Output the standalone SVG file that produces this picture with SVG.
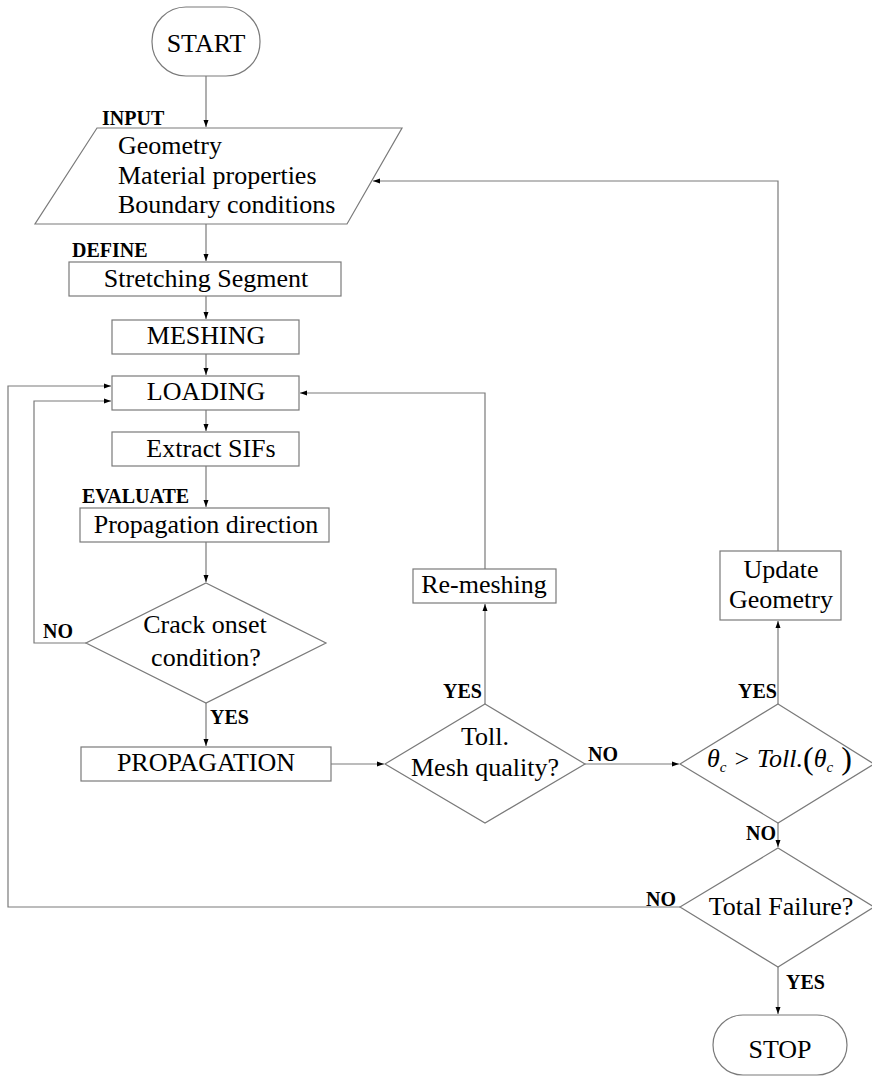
<svg xmlns="http://www.w3.org/2000/svg" width="872" height="1081" viewBox="0 0 872 1081">
<style>
.s{fill:#fff;stroke:#7a7a7a;stroke-width:1.2}
.c{fill:none;stroke:#7a7a7a;stroke-width:1.2}
.t{font-family:"Liberation Serif","Times New Roman",serif;font-size:26px;fill:#000}
.m{text-anchor:middle}
.b{font-family:"Liberation Serif","Times New Roman",serif;font-size:20px;font-weight:bold;fill:#000}
.i{font-style:italic}
</style>
<defs>
<marker id="a" markerUnits="userSpaceOnUse" markerWidth="8" markerHeight="6" refX="7" refY="3" orient="auto">
<path d="M0,0.5 L7,3 L0,5.5 Z" fill="#000"/>
</marker>
</defs>
<rect width="872" height="1081" fill="#fff"/>
<g id="connectors">
<line class="c" x1="206" y1="76" x2="206" y2="127" marker-end="url(#a)"/>
<line class="c" x1="206" y1="224" x2="206" y2="261" marker-end="url(#a)"/>
<line class="c" x1="206" y1="296" x2="206" y2="319" marker-end="url(#a)"/>
<line class="c" x1="206" y1="354" x2="206" y2="375" marker-end="url(#a)"/>
<line class="c" x1="206" y1="410" x2="206" y2="431" marker-end="url(#a)"/>
<line class="c" x1="206" y1="466" x2="206" y2="507" marker-end="url(#a)"/>
<line class="c" x1="206" y1="542" x2="206" y2="582" marker-end="url(#a)"/>
<line class="c" x1="206" y1="703" x2="206" y2="746" marker-end="url(#a)"/>
<polyline class="c" points="86,643 34,643 34,401 111,401" marker-end="url(#a)"/>
<line class="c" x1="331" y1="764" x2="384" y2="764" marker-end="url(#a)"/>
<line class="c" x1="485" y1="704" x2="485" y2="604" marker-end="url(#a)"/>
<polyline class="c" points="485,569 485,393 300,393" marker-end="url(#a)"/>
<line class="c" x1="585" y1="764" x2="679" y2="764" marker-end="url(#a)"/>
<line class="c" x1="778" y1="704" x2="778" y2="621" marker-end="url(#a)"/>
<polyline class="c" points="778,551 778,181 373,181" marker-end="url(#a)"/>
<line class="c" x1="778" y1="823" x2="778" y2="847" marker-end="url(#a)"/>
<polyline class="c" points="680,907 8,907 8,386 111,386" marker-end="url(#a)"/>
<line class="c" x1="778" y1="967" x2="778" y2="1014" marker-end="url(#a)"/>
</g>
<g id="start">
<rect class="s" x="152" y="7" width="108" height="69" rx="34" ry="34"/>
<text class="t m" x="206" y="52">START</text>
</g>
<g id="input">
<text class="b" x="102" y="125">INPUT</text>
<polygon class="s" points="97,128 402,128 347,224 35,224"/>
<text class="t" x="118" y="154">Geometry</text>
<text class="t" x="118" y="184">Material properties</text>
<text class="t" x="118" y="213">Boundary conditions</text>
</g>
<g id="define">
<text class="b" x="72" y="257">DEFINE</text>
<rect class="s" x="69" y="262" width="272" height="34"/>
<text class="t m" x="206" y="287">Stretching Segment</text>
</g>
<g id="meshing">
<rect class="s" x="112" y="320" width="187" height="34"/>
<text class="t m" x="206" y="344">MESHING</text>
</g>
<g id="loading">
<rect class="s" x="112" y="376" width="187" height="34"/>
<text class="t m" x="206" y="400">LOADING</text>
</g>
<g id="extract">
<rect class="s" x="112" y="432" width="187" height="34"/>
<text class="t m" x="211" y="457">Extract SIFs</text>
</g>
<g id="evaluate">
<text class="b" x="82" y="503">EVALUATE</text>
<rect class="s" x="80" y="508" width="249" height="34"/>
<text class="t m" x="206" y="533">Propagation direction</text>
</g>
<g id="crack">
<polygon class="s" points="206,583 326,643 206,703 86,643"/>
<text class="t m" x="205" y="633">Crack onset</text>
<text class="t m" x="206" y="666">condition?</text>
<text class="b" x="43" y="638">NO</text>
<text class="b" x="210" y="724">YES</text>
</g>
<g id="propagation">
<rect class="s" x="81" y="747" width="250" height="34"/>
<text class="t m" x="206" y="771">PROPAGATION</text>
</g>
<g id="toll">
<polygon class="s" points="485,704 585,764 485,823 385,764"/>
<text class="t m" x="485" y="745">Toll.</text>
<text class="t m" x="485" y="776">Mesh quality?</text>
<text class="b" x="443" y="698">YES</text>
<text class="b" x="588" y="761">NO</text>
</g>
<g id="remeshing">
<rect class="s" x="413" y="569" width="143" height="34"/>
<text class="t m" x="484" y="593">Re-meshing</text>
</g>
<g id="theta">
<polygon class="s" points="778,704 874,764 778,823 680,764"/>
<text class="t i" x="707" y="767">θ<tspan font-size="15" dy="5">c</tspan><tspan dy="-5"> &gt; Toll.</tspan><tspan font-style="normal" font-size="32" dy="2">(</tspan><tspan dy="-2">θ</tspan><tspan font-size="15" dy="5">c</tspan><tspan font-style="normal" font-size="32" dy="-3"> )</tspan></text>
<text class="b" x="738" y="698">YES</text>
</g>
<g id="update">
<rect class="s" x="720" y="551" width="121" height="69"/>
<text class="t m" x="781" y="578">Update</text>
<text class="t m" x="781" y="608">Geometry</text>
</g>
<g id="failure">
<polygon class="s" points="778,848 874,907 778,967 680,907"/>
<text class="t m" x="781" y="915">Total Failure?</text>
<text class="b" x="746" y="840">NO</text>
<text class="b" x="646" y="906">NO</text>
<text class="b" x="786" y="989">YES</text>
</g>
<g id="stop">
<rect class="s" x="713" y="1015" width="134" height="60" rx="30" ry="30"/>
<text class="t m" x="780" y="1058">STOP</text>
</g>
</svg>
